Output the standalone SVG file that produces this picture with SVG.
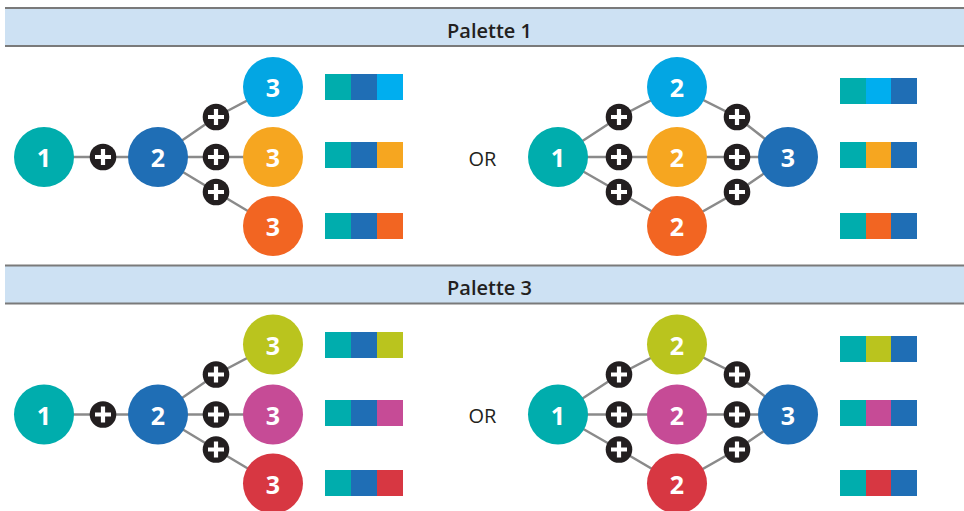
<svg xmlns="http://www.w3.org/2000/svg" xmlns:xlink="http://www.w3.org/1999/xlink" width="964" height="511" viewBox="0 0 964 511">
<style>
.hdr{fill:#cde1f3}
.hl{stroke:#7a7a7a;stroke-width:2}
.ht{font-family:"Open Sans","Liberation Sans",sans-serif;font-weight:600;font-size:20px;fill:#231f20;text-anchor:middle}
.num{font-family:"Open Sans","Liberation Sans",sans-serif;font-weight:700;font-size:25px;fill:#fff;text-anchor:middle;dominant-baseline:central}
.or{font-family:"Open Sans","Liberation Sans",sans-serif;font-size:20px;fill:#231f20;text-anchor:middle;dominant-baseline:central}
.c{stroke:#8a8a8a;stroke-width:2.5;fill:none}
.teal{fill:#00adad}.dblue{fill:#1f6eb5}.lblue{fill:#03a6e3}.sblue{fill:#00aeef}
.orange{fill:#f6a620}.red1{fill:#f26522}.lime{fill:#bac41e}.mag{fill:#c64b96}.red2{fill:#d73742}
</style>
<defs>
<g id="plus"><circle r="13.3" fill="#231f20"/><path d="M-8 0H8M0 -8V8" stroke="#fff" stroke-width="4.2"/></g>
</defs>

<!-- Headers -->
<g id="header1">
<rect class="hdr" x="5" y="8" width="959" height="38"/>
<line class="hl" x1="5" y1="8" x2="964" y2="8"/>
<line class="hl" x1="5" y1="46" x2="964" y2="46"/>
<text class="ht" x="489.5" y="37.5">Palette 1</text>
</g>
<g id="header2">
<rect class="hdr" x="5" y="265.5" width="959" height="38"/>
<line class="hl" x1="5" y1="265.5" x2="964" y2="265.5"/>
<line class="hl" x1="5" y1="303.5" x2="964" y2="303.5"/>
<text class="ht" x="489.5" y="295">Palette 3</text>
</g>

<!-- Connectors -->
<g id="connectors">
<polyline class="c" points="44,157 158,157"/>
<polyline class="c" points="158,157 216,117 273,87"/>
<polyline class="c" points="158,157 273,157"/>
<polyline class="c" points="158,157 216,192 273,226"/>
<polyline class="c" points="558,157 619,117 677,87 737,117 788,157"/>
<polyline class="c" points="558,157 788,157"/>
<polyline class="c" points="558,157 619,192 677,226 737,192 788,157"/>
<polyline class="c" points="44,414.5 158,414.5"/>
<polyline class="c" points="158,414.5 216,374.5 273,344.5"/>
<polyline class="c" points="158,414.5 273,414.5"/>
<polyline class="c" points="158,414.5 216,449.5 273,483.5"/>
<polyline class="c" points="558,414.5 619,374.5 677,344.5 737,374.5 788,414.5"/>
<polyline class="c" points="558,414.5 788,414.5"/>
<polyline class="c" points="558,414.5 619,449.5 677,483.5 737,449.5 788,414.5"/>
</g>

<!-- Plus icons -->
<g id="plus-icons">
<use xlink:href="#plus" x="103" y="157"/>
<use xlink:href="#plus" x="216" y="117"/>
<use xlink:href="#plus" x="216" y="157"/>
<use xlink:href="#plus" x="216" y="192"/>
<use xlink:href="#plus" x="619" y="117"/>
<use xlink:href="#plus" x="619" y="157"/>
<use xlink:href="#plus" x="619" y="192"/>
<use xlink:href="#plus" x="737" y="117"/>
<use xlink:href="#plus" x="737" y="157"/>
<use xlink:href="#plus" x="737" y="192"/>
<use xlink:href="#plus" x="103" y="414.5"/>
<use xlink:href="#plus" x="216" y="374.5"/>
<use xlink:href="#plus" x="216" y="414.5"/>
<use xlink:href="#plus" x="216" y="449.5"/>
<use xlink:href="#plus" x="619" y="374.5"/>
<use xlink:href="#plus" x="619" y="414.5"/>
<use xlink:href="#plus" x="619" y="449.5"/>
<use xlink:href="#plus" x="737" y="374.5"/>
<use xlink:href="#plus" x="737" y="414.5"/>
<use xlink:href="#plus" x="737" y="449.5"/>
</g>

<!-- Palette 1 left -->
<g id="p1-l-n1"><circle class="teal" cx="44" cy="157" r="30"/><text class="num" x="44" y="157">1</text></g>
<g id="p1-l-n2"><circle class="dblue" cx="158" cy="157" r="30"/><text class="num" x="158" y="157">2</text></g>
<g id="p1-l-n3a"><circle class="lblue" cx="273" cy="87" r="30"/><text class="num" x="273" y="87">3</text></g>
<g id="p1-l-n3b"><circle class="orange" cx="273" cy="157" r="30"/><text class="num" x="273" y="157">3</text></g>
<g id="p1-l-n3c"><circle class="red1" cx="273" cy="226" r="30"/><text class="num" x="273" y="226">3</text></g>
<!-- Palette 1 right -->
<g id="p1-r-n1"><circle class="teal" cx="558" cy="157" r="30"/><text class="num" x="558" y="157">1</text></g>
<g id="p1-r-n2a"><circle class="lblue" cx="677" cy="87" r="30"/><text class="num" x="677" y="87">2</text></g>
<g id="p1-r-n2b"><circle class="orange" cx="677" cy="157" r="30"/><text class="num" x="677" y="157">2</text></g>
<g id="p1-r-n2c"><circle class="red1" cx="677" cy="226" r="30"/><text class="num" x="677" y="226">2</text></g>
<g id="p1-r-n3"><circle class="dblue" cx="788" cy="157" r="30"/><text class="num" x="788" y="157">3</text></g>
<text class="or" x="482.5" y="158">OR</text>

<!-- Palette 1 swatches -->
<g id="p1-swatches">
<rect class="teal" x="325" y="74" width="26" height="26"/><rect class="dblue" x="351" y="74" width="26" height="26"/><rect class="sblue" x="377" y="74" width="26" height="26"/>
<rect class="teal" x="325" y="142" width="26" height="26"/><rect class="dblue" x="351" y="142" width="26" height="26"/><rect class="orange" x="377" y="142" width="26" height="26"/>
<rect class="teal" x="325" y="213" width="26" height="26"/><rect class="dblue" x="351" y="213" width="26" height="26"/><rect class="red1" x="377" y="213" width="26" height="26"/>
<rect class="teal" x="840" y="78" width="26" height="26"/><rect class="sblue" x="866" y="78" width="25" height="26"/><rect class="dblue" x="891" y="78" width="26" height="26"/>
<rect class="teal" x="840" y="142" width="26" height="26"/><rect class="orange" x="866" y="142" width="25" height="26"/><rect class="dblue" x="891" y="142" width="26" height="26"/>
<rect class="teal" x="840" y="213" width="26" height="26"/><rect class="red1" x="866" y="213" width="25" height="26"/><rect class="dblue" x="891" y="213" width="26" height="26"/>
</g>

<!-- Palette 3 left -->
<g id="p3-l-n1"><circle class="teal" cx="44" cy="414.5" r="30"/><text class="num" x="44" y="414.5">1</text></g>
<g id="p3-l-n2"><circle class="dblue" cx="158" cy="414.5" r="30"/><text class="num" x="158" y="414.5">2</text></g>
<g id="p3-l-n3a"><circle class="lime" cx="273" cy="344.5" r="30"/><text class="num" x="273" y="344.5">3</text></g>
<g id="p3-l-n3b"><circle class="mag" cx="273" cy="414.5" r="30"/><text class="num" x="273" y="414.5">3</text></g>
<g id="p3-l-n3c"><circle class="red2" cx="273" cy="483.5" r="30"/><text class="num" x="273" y="483.5">3</text></g>
<!-- Palette 3 right -->
<g id="p3-r-n1"><circle class="teal" cx="558" cy="414.5" r="30"/><text class="num" x="558" y="414.5">1</text></g>
<g id="p3-r-n2a"><circle class="lime" cx="677" cy="344.5" r="30"/><text class="num" x="677" y="344.5">2</text></g>
<g id="p3-r-n2b"><circle class="mag" cx="677" cy="414.5" r="30"/><text class="num" x="677" y="414.5">2</text></g>
<g id="p3-r-n2c"><circle class="red2" cx="677" cy="483.5" r="30"/><text class="num" x="677" y="483.5">2</text></g>
<g id="p3-r-n3"><circle class="dblue" cx="788" cy="414.5" r="30"/><text class="num" x="788" y="414.5">3</text></g>
<text class="or" x="482.5" y="415.5">OR</text>

<!-- Palette 3 swatches -->
<g id="p3-swatches">
<rect class="teal" x="325" y="332" width="26" height="26"/><rect class="dblue" x="351" y="332" width="26" height="26"/><rect class="lime" x="377" y="332" width="26" height="26"/>
<rect class="teal" x="325" y="400" width="26" height="26"/><rect class="dblue" x="351" y="400" width="26" height="26"/><rect class="mag" x="377" y="400" width="26" height="26"/>
<rect class="teal" x="325" y="470" width="26" height="26"/><rect class="dblue" x="351" y="470" width="26" height="26"/><rect class="red2" x="377" y="470" width="26" height="26"/>
<rect class="teal" x="840" y="336" width="26" height="26"/><rect class="lime" x="866" y="336" width="25" height="26"/><rect class="dblue" x="891" y="336" width="26" height="26"/>
<rect class="teal" x="840" y="400" width="26" height="26"/><rect class="mag" x="866" y="400" width="25" height="26"/><rect class="dblue" x="891" y="400" width="26" height="26"/>
<rect class="teal" x="840" y="470" width="26" height="26"/><rect class="red2" x="866" y="470" width="25" height="26"/><rect class="dblue" x="891" y="470" width="26" height="26"/>
</g>
</svg>
